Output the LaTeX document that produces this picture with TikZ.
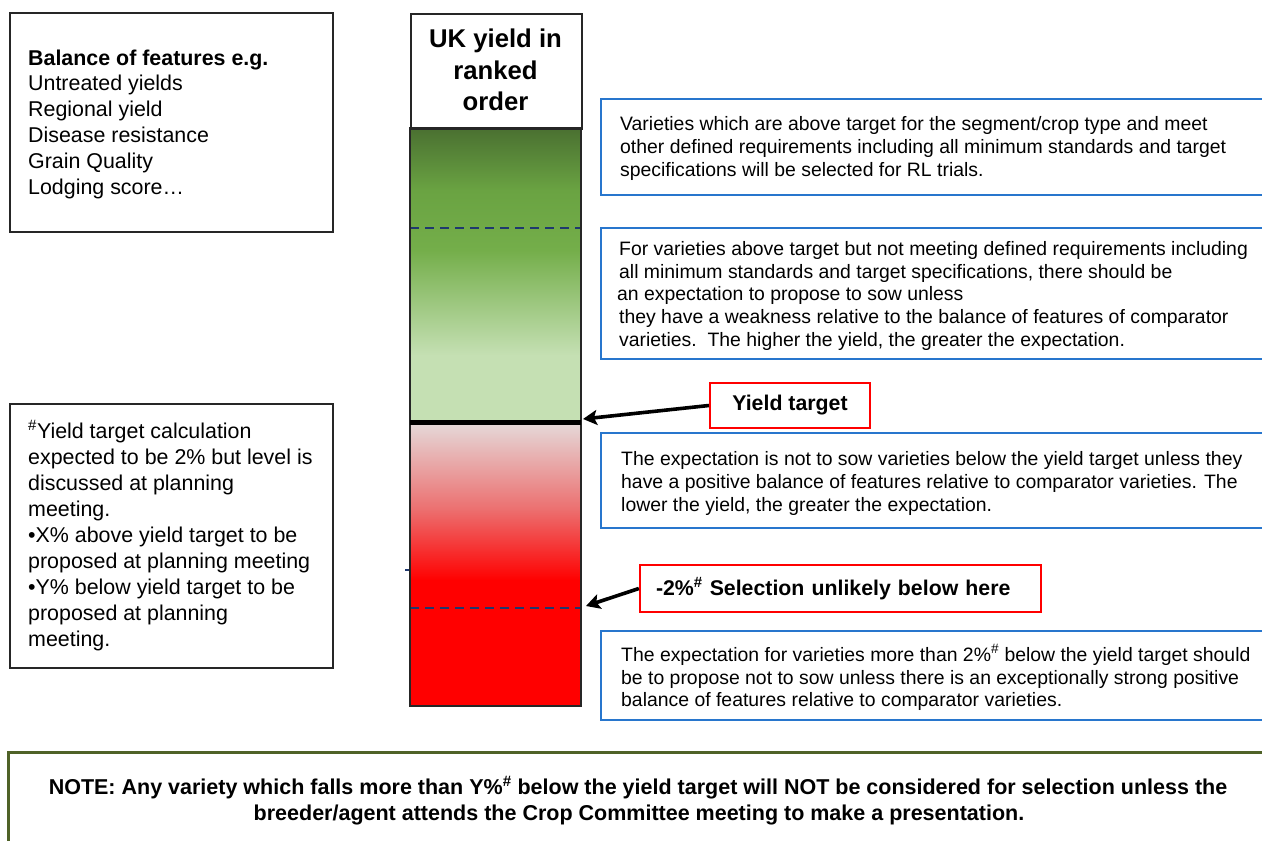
\documentclass[tikz,border=0pt]{standalone}
\usepackage{fontspec}
\setmainfont{Liberation Sans}
\usetikzlibrary{arrows.meta}
\definecolor{bluec}{RGB}{40,118,205}
\definecolor{navy}{RGB}{31,56,110}
\definecolor{olivec}{RGB}{79,98,40}
\definecolor{g1}{RGB}{74,112,49}
\definecolor{g2}{RGB}{106,163,66}
\definecolor{g3}{RGB}{116,174,74}
\definecolor{g4}{RGB}{197,224,179}
\definecolor{r1}{RGB}{229,218,218}
\definecolor{r2}{RGB}{236,110,110}
\definecolor{r3}{RGB}{255,0,0}
\begin{document}
\begin{tikzpicture}[x=1pt,y=-1pt,
  lt/.style={inner sep=0pt, anchor=base west, font=\fontsize{21.4}{26}\selectfont},
  bt/.style={inner sep=0pt, anchor=base west, font=\fontsize{19.4}{23}\selectfont},
  ht/.style={inner sep=0pt, anchor=base, font=\fontsize{25.7}{31}\selectfont\bfseries},
  nt/.style={inner sep=0pt, anchor=base, font=\fontsize{21.5}{26}\selectfont\bfseries},
  blackbox/.style={draw=black!85, line width=1.6pt},
  bluebox/.style={draw=bluec, line width=2pt},
  redbox/.style={draw=red, line width=2.2pt, font=\fontsize{21.3}{26}\selectfont\bfseries},
  dashline/.style={draw=navy, line width=2.2pt, dash pattern=on 9pt off 6pt},
  arr/.style={line width=3.6pt, -{Stealth[length=14pt,width=15pt,inset=3pt]}}]
\useasboundingbox (0,0) rectangle (1262,841);
\clip (0,0) rectangle (1262,841);
\fill[white] (0,0) rectangle (1262,841);

% top-left box
\draw[blackbox] (10,13) rectangle (333,232);
\node[lt, font=\fontsize{21.4}{26}\selectfont\bfseries] (f0) at (28,65) {Balance of features e.g.};
\node[lt] (f1) at (28,90.8) {Untreated yields};
\node[lt] (f2) at (28,116.6) {Regional yield};
\node[lt] (f3) at (28,142.4) {Disease resistance};
\node[lt] (f4) at (28,168.2) {Grain Quality};
\node[lt] (f5) at (28,194) {Lodging score…};

% bottom-left box
\draw[blackbox] (10,404) rectangle (333,668);
\node[lt] (n1) at (28,438) {\textsuperscript{\#}Yield target calculation};
\node[lt] (n2) at (28,464) {expected to be 2\% but level is};
\node[lt] (n3) at (28,490) {discussed at planning};
\node[lt] (n4) at (28,516) {meeting.};
\node[lt] (n5) at (28,542) {•X\% above yield target to be};
\node[lt] (n6) at (28,568) {proposed at planning meeting};
\node[lt] (n7) at (28,594) {•Y\% below yield target to be};
\node[lt] (n8) at (28,620) {proposed at planning};
\node[lt] (n9) at (28,646) {meeting.};

% bar
\shade[top color=g1, bottom color=g2] (410,128) rectangle (581,190.5);
\shade[top color=g2, bottom color=g3] (410,190) rectangle (581,250.5);
\shade[top color=g3, bottom color=g4] (410,250) rectangle (581,355.5);
\fill[g4] (410,355) rectangle (581,422);
\shade[top color=r1, bottom color=r2] (410,422) rectangle (581,510.5);
\shade[top color=r2, bottom color=r3] (410,510) rectangle (581,580.5);
\fill[r3] (410,580) rectangle (581,706);
\draw[dashline] (410,228) -- (581,228);
\draw[dashline] (410,608) -- (581,608);
\draw[navy, line width=1.4pt] (405,570) -- (411,570);
\draw[draw=black!85, line width=2pt] (410,128) rectangle (581,706);
\draw[black, line width=5pt] (410,422) -- (581,422);
\node[blackbox, minimum width=171pt, minimum height=115pt, anchor=north west] (hdr) at (410,13) {};
\node[ht] (h1) at (495.5,47) {UK yield in};
\node[ht] (h2) at (495.5,79) {ranked};
\node[ht] (h3) at (495.5,110) {order};

% blue boxes
\draw[bluebox] (601,99) rectangle (1300,195);
\node[bt] (a1) at (620,130) {Varieties which are above target for the segment/crop type and meet};
\node[bt] (a2) at (620,153) {other defined requirements including all minimum standards and target};
\node[bt] (a3) at (620,176) {specifications will be selected for RL trials.};

\draw[bluebox] (601,228) rectangle (1300,359);
\node[bt] (b1) at (619,255) {For varieties above target but not meeting defined requirements including};
\node[bt] (b2) at (619,278) {all minimum standards and target specifications, there should be};
\node[bt] (b3) at (617,300) {an expectation to propose to sow unless};
\node[bt] (b4) at (619,323) {they have a weakness relative to the balance of features of comparator};
\node[bt] (b5) at (619,346) {varieties.\ \ The higher the yield, the greater the expectation.};

\draw[bluebox] (601,433) rectangle (1300,528);
\node[bt] (c1) at (621,465) {The expectation is not to sow varieties below the yield target unless they};
\node[bt] (c2) at (621,488) {have a positive balance of features relative to comparator varieties. The};
\node[bt] (c3) at (621,511) {lower the yield, the greater the expectation.};

\draw[bluebox] (601,631) rectangle (1300,720);
\node[bt] (d1) at (621,661) {The expectation for varieties more than 2\%\textsuperscript{\#} below the yield target should};
\node[bt] (d2) at (621,684) {be to propose not to sow unless there is an exceptionally strong positive};
\node[bt] (d3) at (621,706) {balance of features relative to comparator varieties.};

% red boxes and arrows
\node[redbox, minimum width=160pt, minimum height=45pt] (yt) at (790,405.5) {Yield target};
\node[redbox, minimum width=401pt, minimum height=47pt, text width=369pt, inner xsep=16pt, align=left] (sel) at (840.5,588.5) {-2\%\textsuperscript{\#} Selection unlikely below here};
\coordinate (ytp) at (583,419);
\coordinate (selp) at (586,606);
\draw[arr] (yt.west) -- (ytp);
\draw[arr] (sel.west) -- (selp);

% note
\draw[olivec, line width=3pt] (8,752) rectangle (1300,900);
\node[nt] (note1) at (638,794) {NOTE: Any variety which falls more than Y\%\textsuperscript{\#} below the yield target will NOT be considered for selection unless the};
\node[nt] (note2) at (639,820) {breeder/agent attends the Crop Committee meeting to make a presentation.};
\end{tikzpicture}
\end{document}
